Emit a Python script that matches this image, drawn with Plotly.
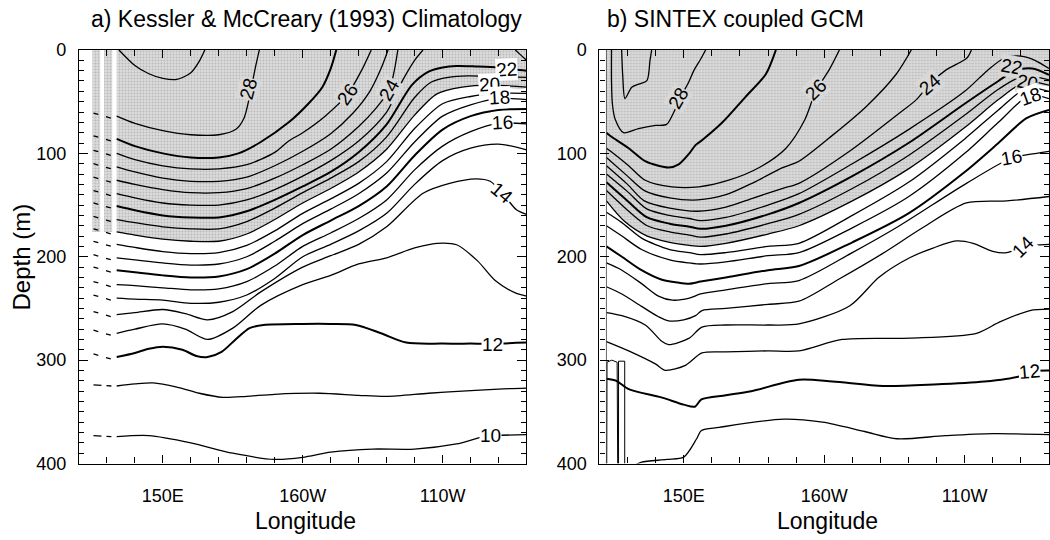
import plotly.graph_objects as go

# ---------------- data: panel a (Kessler & McCreary climatology) ----------------
# isotherm depth (m) vs longitude (deg E); each level has its own longitude list
A29_LON = [134.3, 140, 145, 150, 155, 160, 163, 165]
A29_DEP = [0, 15, 23, 27.5, 28.5, 22, 11, 0]
A28_LON = [133.5, 140, 150, 160, 170, 176, 179, 181, 183, 184.5]
A28_DEP = [64, 71, 78, 82, 82, 77, 66, 45, 18, 0]
A27_LON = [133.5, 140, 150, 160, 170, 177, 185, 195, 202, 207, 210, 212]
A27_DEP = [86, 93, 100, 104, 104, 100, 89, 70, 52, 36, 18, 0]
A26_LON = [133.5, 140, 150, 160, 170, 180, 190, 195, 200, 208, 216, 221, 224.5]
A26_DEP = [100, 106, 112, 115, 115, 111, 99, 88, 80, 64, 43, 20, 0]
A25_LON = [133.5, 140, 150, 160, 170, 180, 190, 200, 210, 218, 224, 228, 230.5]
A25_DEP = [113, 118, 124, 127, 127, 123, 112, 98, 81, 61, 40, 18, 0]
A24_LON = [133.5, 140, 150, 160, 170, 180, 190, 200, 210, 220, 226, 231, 234]
A24_DEP = [126, 130, 135, 138, 138, 134, 124, 111, 96, 74, 57, 38, 0]
A23_LON = [133.5, 140, 150, 160, 170, 180, 190, 200, 210, 220, 230, 236, 240, 243, None, 276, 278, 280]
A23_DEP = [139, 143, 148, 150, 150, 145, 135, 122, 107, 88, 60, 28, 10, 0, None, 0, 5, 10]
A22_LON = [133.5, 140, 150, 160, 170, 180, 190, 200, 210, 220, 230, 239, 245, 250, 255, 262, 270, 276, 280]
A22_DEP = [151, 155, 160, 162, 162, 156, 145, 132, 118, 99, 72, 34, 21, 17, 15.5, 16, 17, 19, 20]
A21_LON = [133.5, 140, 150, 160, 170, 180, 190, 200, 210, 220, 230, 240, 246, 252, 259, 267, 280]
A21_DEP = [164, 167, 171, 173, 173, 166, 153, 138, 124, 108, 84, 46, 31, 26.5, 25, 25.5, 26.6]
A20_LON = [133.5, 140, 150, 160, 170, 180, 190, 200, 210, 220, 230, 240, 248, 257, 267, 280]
A20_DEP = [176, 179, 183, 185, 185, 178, 164, 148, 134, 118, 96, 63, 42.5, 36, 34, 36]
A_GRID = [133.5, 140, 150, 160, 170, 180, 190, 200, 210, 220, 230, 240, 250, 260, 270, 280]
A19_DEP = [188, 191, 195, 197, 196, 189, 175, 158, 144, 129, 108, 76, 52, 45, 42, 42]
A18_DEP = [201, 203, 206, 208, 207, 200, 185, 168, 154, 139, 119, 89, 64, 53, 47, 48]
A17_DEP = [213, 215, 218, 220, 219, 212, 197, 179, 165, 151, 132, 102, 77, 64, 58, 57]
A16_DEP = [227, 228, 230, 232, 231, 224, 209, 190, 177, 163, 145, 116, 93, 79, 71, 71.5]
A15_DEP = [240, 241, 242, 245, 244, 237, 221, 200, 188, 175, 158, 130, 107, 95, 91, 96.6]
A14_LON = [133.5, 140, 150, 158, 166, 175, 185, 200, 210, 220, 230, 243, 252.5, 262, 267, 271.4, 276.4, 280]
A14_DEP = [256, 254, 251, 255, 261, 253, 234, 210, 199, 188, 171, 138.6, 129, 124.6, 127, 138.6, 154.5, 159]
A13_LON = [133.5, 140, 150, 158, 166, 175, 185, 200, 210, 220, 230, 240, 248, 255, 262.5, 268.7, 276, 280]
A13_DEP = [274, 270, 265, 270, 280, 269, 247, 227, 218, 207, 201, 191.5, 187, 188.4, 204, 222.7, 235, 238]
A12_LON = [133.5, 140, 145, 150, 157, 162, 166, 171, 176, 181, 186, 200, 210, 219, 228, 237, 250, 260, 268, 280]
A12_DEP = [297, 293, 289, 287, 290, 296, 297, 292, 280, 269, 266, 265, 265, 266, 274, 283, 284, 284, 284, 283]
A11_LON = [133.5, 140, 146.5, 155, 163, 171.5, 180, 190, 206, 220, 230, 245, 257, 270, 280]
A11_DEP = [325, 323, 322, 326, 332, 336, 335, 333, 332, 334, 335, 332, 330, 328, 327]
A10_LON = [133.5, 145, 160, 175, 190, 200, 210, 225, 240, 255, 265, 280]
A10_DEP = [374, 373, 380, 390, 396, 394, 389, 386, 386, 381, 374, 372]
# western island stubs (dashed) and shaded strips
A_STUB_LON = [125.2, 131.6]
A_STRIP_LONS = [[124.8, 127.6], [129.0, 131.9]]
# contour labels: (text, lon, depth, angle, inside shading)
A_LABELS = [("28", 180.5, 38, -75, True), ("26", 216, 43, -55, True), ("24", 231, 38, -60, True),
            ("22", 272.7, 18.5, -3, False), ("20", 266.8, 33, -3, False), ("18", 270.4, 46, -3, False),
            ("16", 271.4, 70.5, -3, False), ("14", 271.4, 138.6, 40, False),
            ("12", 268, 284.5, 0, False), ("10", 267, 373, 0, False)]

# ---------------- data: panel b (SINTEX coupled GCM) ----------------
B29_LON = [127.9, 128.3, 129.1, 131.5, 134, 136.9, 138, 138.6]
B29_DEP = [0, 25, 47, 36, 33, 29.6, 10, 0]
B28_LON = [124.3, 124.3, 124.6, 125.6, 128.6, 133.9, 140, 143.9, 146.5, 149, 151.8, 153.6, 156, 157.8]
B28_DEP = [0, 30, 52, 67, 80, 76, 73, 72, 60, 45, 31, 20, 9, 0]
B27_LON = [122.5, 123.8, 130.4, 136.3, 141, 144.6, 148.2, 152, 154.2, 156.5, 163.7, 172, 179.2, 182.8]
B27_DEP = [80, 83, 95, 107.6, 112, 113.7, 110.6, 100, 92, 87.3, 70.2, 45.3, 23.5, 0]
B26_LON = [122.5, 124, 130.4, 136.3, 145.8, 155.4, 166, 176.9, 186.4, 193, 197, 202, 205.4]
B26_DEP = [95, 98, 112, 126, 132.4, 132.4, 126, 113.7, 95, 68, 40, 18, 0]
B25_LON = [122.5, 130, 136, 145, 155, 165, 175, 185, 191, 202.9, 215, 225.6, 231]
B25_DEP = [104, 122, 136, 143, 145, 140, 128, 114, 107.6, 82.6, 54.6, 23.5, 0]
B24_LON = [122.5, 130, 136, 145, 155, 165, 175, 185, 191, 209, 226.8, 232.8, 237.5, 243.5, 250.7, 252.4]
B24_DEP = [112, 130, 146, 153, 156, 152, 143, 134, 129, 98, 61, 48, 33, 19, 8, 0]
B23_LON = [122.5, 130, 137, 145, 152, 156, 165, 180, 191, 210, 230, 250, 258, 264, 270, 275, 280]
B23_DEP = [120, 137, 154, 160, 163, 165, 162, 150, 139, 110, 77, 40, 20, 8, 6, 10, 18]
B22_LON = [122.5, 130, 137, 145, 152, 156, 165, 180, 191, 210, 230, 250, 262, 268, 274, 280]
B22_DEP = [128, 146, 162, 168, 171, 173, 170, 159, 148, 122, 90, 52, 30, 20, 18, 24]
B21_LON = [122.5, 130, 137, 145, 152, 156, 165, 180, 191, 210, 230, 250, 262, 271, 280]
B21_DEP = [136, 155, 170, 176, 179, 181, 178, 168, 159, 134, 102, 63, 38, 25, 29]
B20_LON = [122.5, 129, 137, 145, 152, 156, 165, 180, 191, 210, 230, 250, 262, 271.4, 280]
B20_DEP = [146, 166, 180, 186, 189, 190, 187, 178, 170, 146, 115, 75, 48, 31, 34]
B19_LON = [122.5, 128, 135, 145, 152, 156, 165, 180, 191, 210, 230, 250, 262, 272, 280]
B19_DEP = [157, 167, 182, 193, 196, 198, 196, 190, 187, 160, 128, 86, 58, 37, 40]
B18_LON = [122.5, 128, 135, 145, 152, 156, 165, 180, 191, 210, 230, 250, 262, 273, 280]
B18_DEP = [170, 180, 193, 203, 206, 207, 205, 199, 196, 172, 142, 100, 70, 44, 47]
B17_LON = [122.5, 128, 135, 142, 148, 152, 156, 165, 180, 191, 210, 230, 250, 262, 272, 280]
B17_DEP = [190, 200, 213, 222, 225, 226, 224, 220, 213, 209, 186, 158, 118, 90, 66, 58]
B16_LON = [122.5, 128, 135, 141, 146, 152, 156, 165, 180, 191, 210, 226.8, 250.6, 267, 273, 280]
B16_DEP = [206, 213, 226, 238, 242, 240, 236, 232, 226, 223, 196, 170, 129, 104, 101, 98]
B15_LON = [122.5, 128, 135, 141, 144.6, 150, 154.2, 156.5, 165, 180, 191, 205, 220.7, 235, 250.6, 265, 280]
B15_DEP = [229, 236, 248, 258, 262, 261, 257, 252, 250, 246, 243, 222, 197, 172, 148, 146, 141.7]
B14_LON = [122.5, 128, 136.3, 142.3, 144.6, 151.8, 156.5, 165, 180, 191, 209, 219.6, 230.4, 238.7, 247, 253, 260, 264.9, 270.8, 280]
B14_DEP = [254, 257, 266, 282, 285, 279, 268, 266, 266, 265, 247.6, 219.6, 201, 191.6, 184.7, 187, 194.7, 196, 190, 188]
B13_LON = [122.5, 130.4, 139.9, 143.5, 150.6, 156.5, 165, 180, 191, 206.4, 230.4, 254.2, 262.5, 273.2, 280]
B13_DEP = [282, 291, 303.6, 309.8, 305, 293, 292, 291, 291, 280, 278.7, 274, 263, 252, 250.7]
B12_LON = [122.5, 126, 130.4, 142, 150, 154, 156.3, 165, 174, 191, 203, 221, 239, 257, 269, 273, 280]
B12_DEP = [318, 320, 328, 336, 343, 345, 338, 334, 330, 319, 320.7, 325, 323.6, 320.7, 316, 311, 310]
B11_LON = [133, 135, 144, 150, 154.6, 156.3, 162.6, 185.6, 199.4, 214.4, 225.9, 243, 260, 280]
B11_DEP = [401, 398.6, 396, 393.8, 376, 368, 365, 357, 360, 369, 376, 373, 371, 372]
# narrow boxes of the 11 degree isotherm round land points (bottom-left of panel b)
B11_BOX_LON = [122.6, 122.7, 124.4, 126.3, 126.5, None, 126.8, 126.8, 129, 129]
B11_BOX_DEP = [400, 302, 300, 302, 400, None, 400, 301, 301, 400]
B_EDGE_LON = 122.5
B_LABELS = [("28", 148, 47, -60, True), ("26", 197, 38, -45, True), ("24", 237.5, 33, -40, True),
            ("22", 266.5, 16, 10, True), ("20", 272.5, 31, 10, True), ("18", 273.5, 45, -20, False),
            ("16", 266.5, 104, -10, False), ("14", 270.8, 190, -45, False), ("12", 273, 311, -5, False)]

LEVELS_A = {29: (A29_LON, A29_DEP), 28: (A28_LON, A28_DEP), 27: (A27_LON, A27_DEP),
            26: (A26_LON, A26_DEP), 25: (A25_LON, A25_DEP), 24: (A24_LON, A24_DEP),
            23: (A23_LON, A23_DEP), 22: (A22_LON, A22_DEP), 21: (A21_LON, A21_DEP),
            20: (A20_LON, A20_DEP), 19: (A_GRID, A19_DEP), 18: (A_GRID, A18_DEP),
            17: (A_GRID, A17_DEP), 16: (A_GRID, A16_DEP), 15: (A_GRID, A15_DEP),
            14: (A14_LON, A14_DEP), 13: (A13_LON, A13_DEP), 12: (A12_LON, A12_DEP),
            11: (A11_LON, A11_DEP), 10: (A10_LON, A10_DEP)}
LEVELS_B = {29: (B29_LON, B29_DEP), 28: (B28_LON, B28_DEP), 27: (B27_LON, B27_DEP),
            26: (B26_LON, B26_DEP), 25: (B25_LON, B25_DEP), 24: (B24_LON, B24_DEP),
            23: (B23_LON, B23_DEP), 22: (B22_LON, B22_DEP), 21: (B21_LON, B21_DEP),
            20: (B20_LON, B20_DEP), 19: (B19_LON, B19_DEP), 18: (B18_LON, B18_DEP),
            17: (B17_LON, B17_DEP), 16: (B16_LON, B16_DEP), 15: (B15_LON, B15_DEP),
            14: (B14_LON, B14_DEP), 13: (B13_LON, B13_DEP), 12: (B12_LON, B12_DEP),
            11: (B11_LON, B11_DEP)}

SHADE = "#d2d2d2"
STIPPLE = dict(shape=".", size=3, solidity=0.3, fgcolor="#b8b8b8", bgcolor="#dcdcdc",
               fillmode="replace")
FONT = "Liberation Sans, Arial, Helvetica, sans-serif"
THICK = {27, 22, 17, 12}

fig = go.Figure()

def add_fill(xs, ys, xa, ya, shape="spline"):
    fig.add_trace(go.Scatter(x=xs, y=ys, fill="toself", fillcolor=SHADE, fillpattern=STIPPLE,
                             mode="none", line=dict(shape=shape), hoverinfo="skip",
                             showlegend=False, xaxis=xa, yaxis=ya))

def add_shading(levels, xa, ya, lon_max=280):
    lon, dep = levels[20]
    add_fill(list(lon) + [lon_max, lon[0]], list(dep) + [0, 0], xa, ya)

def add_lines(levels, xa, ya):
    for lev, (lon, dep) in levels.items():
        fig.add_trace(go.Scatter(x=lon, y=dep, mode="lines",
                                 line=dict(color="black", width=2.0 if lev in THICK else 1.3,
                                           shape="spline", smoothing=0.8),
                                 connectgaps=False, hoverinfo="skip", showlegend=False,
                                 xaxis=xa, yaxis=ya))

# panel a shading (strips + main region)
for s in A_STRIP_LONS:
    add_fill([s[0], s[1], s[1], s[0]], [0, 0, A20_DEP[0], A20_DEP[0]], "x", "y", shape="linear")
add_shading(LEVELS_A, "x", "y")
add_shading(LEVELS_B, "x2", "y2")
add_lines(LEVELS_A, "x", "y")
add_lines(LEVELS_B, "x2", "y2")

# boxes (straight segments)
fig.add_trace(go.Scatter(x=B11_BOX_LON, y=B11_BOX_DEP, mode="lines",
                         line=dict(color="black", width=1.0), connectgaps=False,
                         hoverinfo="skip", showlegend=False, xaxis="x2", yaxis="y2"))

# dashed western stubs in panel a
for lev in range(28, 9, -1):
    d0 = LEVELS_A[lev][1][0]
    dash = "8px,5px" if lev <= 11 else "5px,8px,5px"
    fig.add_trace(go.Scatter(x=A_STUB_LON, y=[d0 - 3, d0 + 2] if lev > 11 else [d0 - 1, d0],
                             mode="lines", line=dict(color="black", width=1.3, dash=dash),
                             hoverinfo="skip", showlegend=False, xaxis="x", yaxis="y"))

# land edge line in panel b
fig.add_trace(go.Scatter(x=[B_EDGE_LON, B_EDGE_LON], y=[0, 400], mode="lines",
                         line=dict(color="#444", width=0.8), hoverinfo="skip",
                         showlegend=False, xaxis="x2", yaxis="y2"))

annotations = []
for labels, xr, yr in [(A_LABELS, "x", "y"), (B_LABELS, "x2", "y2")]:
    for txt, lo, de, ang, inside in labels:
        annotations.append(dict(x=lo, y=de, xref=xr, yref=yr, text=txt, showarrow=False,
                                xanchor="center", yanchor="middle",
                                textangle=ang, font=dict(family=FONT, size=19, color="black"),
                                bgcolor="#d8d8d8" if inside else "white", borderpad=0))

def paper_text(x_px, y_px, text, size, angle=0, xanchor="center"):
    return dict(x=x_px / 1050, y=1 - y_px / 540, xref="paper", yref="paper", text=text,
                showarrow=False, xanchor=xanchor, yanchor="middle", textangle=angle,
                font=dict(family=FONT, size=size, color="black"))

annotations += [
    paper_text(89, 9, "a) Kessler & McCreary (1993) Climatology", 23, xanchor="left"),
    paper_text(606, 9, "b) SINTEX coupled GCM", 23, xanchor="left"),
    paper_text(22, 256, "Depth (m)", 24, angle=-90),
    paper_text(306, 531, "Longitude", 23),
    paper_text(828, 531, "Longitude", 23),
]

X_TICKS = [150, 200, 250]
X_TEXT = ["150E", "160W", "110W"]
Y_TICKS = [0, 100, 200, 300, 400]

def xaxis(dom, anchor):
    return dict(domain=dom, anchor=anchor, range=[120, 280], showgrid=False, zeroline=False,
                showline=True, linecolor="black", linewidth=1.2, mirror="ticks",
                ticks="inside", ticklen=8, tickwidth=1.2, tickcolor="black",
                tickvals=X_TICKS, ticktext=X_TEXT, ticklabelstandoff=16,
                tickfont=dict(family=FONT, size=18, color="black"),
                minor=dict(dtick=10, tick0=120, ticks="inside", ticklen=6, tickwidth=1.1,
                           tickcolor="black", showgrid=False))

def yaxis(anchor):
    return dict(domain=[1 - 471 / 540, 1 - 41.5 / 540], anchor=anchor, range=[400, 0],
                showgrid=False, zeroline=False, showline=True, linecolor="black", linewidth=1.2,
                mirror="ticks", ticks="inside", ticklen=9, tickwidth=1.2, tickcolor="black",
                tickvals=Y_TICKS, ticklabelstandoff=8,
                tickfont=dict(family=FONT, size=18, color="black"),
                minor=dict(dtick=10, tick0=0, ticks="inside", ticklen=5, tickwidth=1.1,
                           tickcolor="black", showgrid=False))

fig.update_layout(
    width=1050, height=540, margin=dict(l=0, r=0, t=0, b=0),
    paper_bgcolor="white", plot_bgcolor="white",
    xaxis=xaxis([79 / 1050, 527 / 1050], "y"),
    yaxis=yaxis("x"),
    xaxis2=xaxis([600 / 1050, 1.0], "y2"),
    yaxis2=yaxis("x2"),
    annotations=annotations,
    showlegend=False,
)

fig.write_html("out.html")
